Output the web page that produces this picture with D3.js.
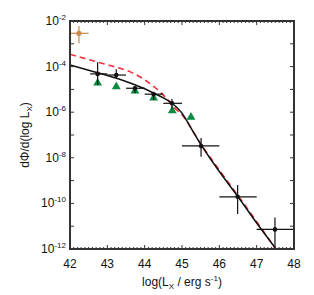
<!DOCTYPE html>
<html><head><meta charset="utf-8">
<script src="https://cdn.jsdelivr.net/npm/d3@7"></script>
<style>body{margin:0;background:#fff}svg{display:block}text{font-family:"Liberation Sans",Arial,sans-serif;fill:#111}</style>
</head><body><svg id="c" width="314" height="295"></svg>
<script>
// log10(L_X) and log10(dPhi/dlogL) values
const ptsX   = [42.74, 43.24, 43.74, 44.24, 44.73, 45.51, 46.49, 47.49];
const ptsY   = [-4.32, -4.37, -4.95, -5.21, -5.61, -7.48, -9.71, -11.14];
const ptsXlo = [42.54, 43.0, 43.5, 44.0, 44.5, 45.0, 46.0, 47.0];
const ptsXhi = [43.0, 43.5, 44.0, 44.5, 45.0, 46.0, 47.0, 48.0];
const ptsYlo = [-4.81, -4.51, -5.17, -5.46, -5.85, -7.95, -10.46, -12.0];
const ptsYhi = [-3.81, -4.12, -4.88, -5.10, -5.42, -7.13, -9.19, -10.62];

const orangeX = [42.24], orangeY = [-2.54];
const orangeXlo = [42.02], orangeXhi = [42.5], orangeYlo = [-2.98], orangeYhi = [-2.22];

const triX = [42.74, 43.24, 43.74, 44.24, 44.74, 45.24];
const triY = [-4.72, -4.88, -5.07, -5.38, -5.93, -6.22];

const blackCurveX = [42.0, 42.5, 43.0, 43.5, 44.0, 44.25, 44.5, 44.75, 45.0, 45.25, 45.5, 45.75, 46.0, 46.5, 47.0, 47.52];
const blackCurveY = [-3.93, -4.16, -4.39, -4.65, -4.97, -5.17, -5.37, -5.63, -6.04, -6.72, -7.40, -8.02, -8.60, -9.71, -10.86, -12.0];

const redCurveX = [42.0, 42.5, 43.0, 43.25, 43.6, 44.0, 44.3, 44.6, 44.8, 45.0, 45.5, 46.0, 46.5, 47.0, 47.5];
const redCurveY = [-3.46, -3.69, -3.92, -4.03, -4.22, -4.58, -4.95, -5.42, -5.80, -6.12, -7.38, -8.54, -9.66, -10.80, -11.98];

const xTicks = [42, 43, 44, 45, 46, 47, 48];
const yTickExp = [-2, -4, -6, -8, -10, -12];

const svg = d3.select("#c");
const L = 70, R = 294, T = 21, B = 249;
const x = d3.scaleLinear().domain([42, 48]).range([L, R]);
const y = d3.scaleLog().domain([1e-12, 1e-2]).range([B, T]);
const Y = v => y(Math.pow(10, v));

const clip = svg.append("clipPath").attr("id","cp").append("rect")
  .attr("x", L).attr("y", T).attr("width", R-L).attr("height", B-T);
const g = svg.append("g").attr("clip-path","url(#cp)");

// curves
const line = d3.line().x(d=>x(d[0])).y(d=>Y(d[1])).curve(d3.curveMonotoneX);
g.append("path").datum(redCurveX.map((v,i)=>[v, redCurveY[i]]))
  .attr("d", line).attr("fill","none").attr("stroke","#f0303a")
  .attr("stroke-width",1.6).attr("stroke-dasharray","6,4");
g.append("path").datum(blackCurveX.map((v,i)=>[v, blackCurveY[i]]))
  .attr("d", line).attr("fill","none").attr("stroke","#111").attr("stroke-width",1.5);

// green triangles
g.selectAll(".tri").data(triX.map((v,i)=>[v, triY[i]])).enter().append("path")
  .attr("d", d3.symbol().type(d3.symbolTriangle).size(34))
  .attr("transform", d=>`translate(${x(d[0])},${Y(d[1])})`)
  .attr("fill","#0a8a43");

// error bars
function errs(xs, ys, xl, xh, yl, yh, col, r){
  xs.forEach((v,i)=>{
    g.append("line").attr("x1",x(xl[i])).attr("x2",x(xh[i])).attr("y1",Y(ys[i])).attr("y2",Y(ys[i]))
      .attr("stroke",col).attr("stroke-width",1.2);
    g.append("line").attr("x1",x(v)).attr("x2",x(v)).attr("y1",Y(yl[i])).attr("y2",Y(yh[i]))
      .attr("stroke",col).attr("stroke-width",1.2);
    g.append("circle").attr("cx",x(v)).attr("cy",Y(ys[i])).attr("r",r).attr("fill",col);
  });
}
errs(ptsX, ptsY, ptsXlo, ptsXhi, ptsYlo, ptsYhi, "#111", 2.3);
errs(orangeX, orangeY, orangeXlo, orangeXhi, orangeYlo, orangeYhi, "#c98a45", 2.6);

// axes frame and ticks
const ax = svg.append("g").attr("stroke","#333");
// minor x ticks
d3.range(42, 48.001, 0.1).forEach(v=>{
  const major = Math.abs(v-Math.round(v))<1e-6;
  const len = major ? 4 : 2;
  ax.append("line").attr("x1",x(v)).attr("x2",x(v)).attr("y1",B).attr("y2",B-len).attr("stroke-width",1);
  ax.append("line").attr("x1",x(v)).attr("x2",x(v)).attr("y1",T).attr("y2",T+len).attr("stroke-width",1);
});
d3.range(-12, -1.5, 1).forEach(e=>{
  ax.append("line").attr("x1",L).attr("x2",L+4).attr("y1",Y(e)).attr("y2",Y(e)).attr("stroke-width",1);
  ax.append("line").attr("x1",R).attr("x2",R-4).attr("y1",Y(e)).attr("y2",Y(e)).attr("stroke-width",1);
});
ax.append("rect").attr("x",L).attr("y",T).attr("width",R-L).attr("height",B-T)
  .attr("fill","none").attr("stroke-width",2);

// x tick labels
svg.selectAll(".xl").data(xTicks).enter().append("text")
  .attr("x", d=>x(d)).attr("y", 268).attr("text-anchor","middle")
  .attr("font-size",12).text(d=>d);

// y tick labels
yTickExp.forEach(e=>{
  const t = svg.append("text").attr("x", 66).attr("y", Y(e)+4).attr("text-anchor","end").attr("font-size",12);
  t.append("tspan").text("10");
  t.append("tspan").attr("font-size",8).attr("dy",-5).text(e);
});

// axis titles
const xt = svg.append("text").attr("x", 182).attr("y", 286).attr("text-anchor","middle").attr("font-size",12);
xt.append("tspan").text("log(L");
xt.append("tspan").attr("font-size",8).attr("dy",3).text("X");
xt.append("tspan").attr("dy",-3).text(" / erg s");
xt.append("tspan").attr("font-size",8).attr("dy",-5).text("-1");
xt.append("tspan").attr("dy",5).text(")");

const yt = svg.append("text").attr("transform","translate(29,135) rotate(-90)")
  .attr("text-anchor","middle").attr("font-size",12);
yt.append("tspan").text("dΦ/d(log L");
yt.append("tspan").attr("font-size",8).attr("dy",3).text("X");
yt.append("tspan").attr("dy",-3).text(")");
</script></body></html>
